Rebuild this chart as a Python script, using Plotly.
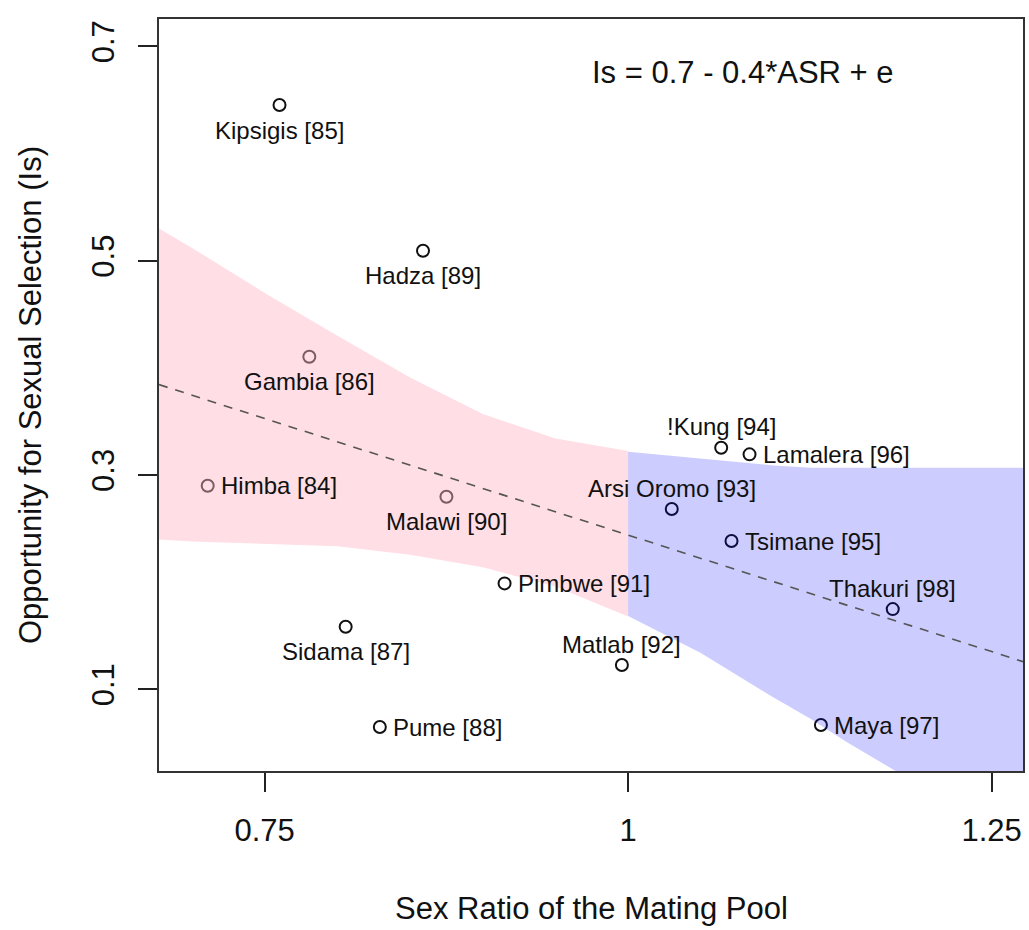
import plotly.graph_objects as go

# ---- data ----
societies = ["Kipsigis [85]", "Hadza [89]", "Gambia [86]", "Himba [84]", "Malawi [90]",
             "Pimbwe [91]", "Sidama [87]", "Pume [88]", "Matlab [92]", "!Kung [94]",
             "Lamalera [96]", "Arsi Oromo [93]", "Tsimane [95]", "Thakuri [98]", "Maya [97]"]
asr = [0.7602, 0.8589, 0.7807, 0.7108, 0.8750, 0.9150, 0.8057, 0.8292, 0.9957, 1.0640,
       1.0835, 1.0300, 1.0711, 1.1820, 1.1326]
i_s = [0.6453, 0.5093, 0.4104, 0.2900, 0.2798, 0.1989, 0.1584, 0.0648, 0.1227, 0.3255,
       0.3193, 0.2683, 0.2384, 0.1749, 0.0667]
label_pos = ["below", "below", "below", "right", "below", "right", "below", "right", "above",
             "above", "right", "above", "right", "above", "right"]

# regression line
fit_intercept = 0.679
fit_slope = -0.435
fit_x = [0.6773, 1.2716]

# shaded bands
pink_x = [0.67, 0.70, 0.75, 0.80, 0.85, 0.90, 0.95, 1.00]
pink_upper = [0.536, 0.512, 0.470, 0.430, 0.391, 0.357, 0.334, 0.3225]
pink_lower = [0.2405, 0.238, 0.236, 0.2335, 0.2255, 0.214, 0.196, 0.168]
blue_x = [1.00, 1.05, 1.10, 1.126, 1.15, 1.20, 1.25, 1.29]
blue_upper = [0.3217, 0.3150, 0.3090, 0.3068, 0.3068, 0.3068, 0.3068, 0.3068]
blue_lower = [0.1684, 0.134, 0.0923, 0.072, 0.051, 0.011, -0.030, -0.062]

x_ticks = [0.75, 1.0, 1.25]
x_ticklabels = ["0.75", "1", "1.25"]
y_ticks = [0.1, 0.3, 0.5, 0.7]
y_ticklabels = ["0.1", "0.3", "0.5", "0.7"]

formula_text = "Is = 0.7 - 0.4*ASR + e"
formula_x, formula_y = 1.0789, 0.676

FONT = "Liberation Sans, Arial, sans-serif"

fig = go.Figure()

fig.add_trace(go.Scatter(
    x=asr, y=i_s, mode="markers",
    marker=dict(symbol="circle-open", size=12, color="#111", line=dict(width=2, color="#111")),
    showlegend=False, hoverinfo="skip"))

fig.add_trace(go.Scatter(
    x=pink_x + pink_x[::-1], y=pink_upper + pink_lower[::-1],
    fill="toself", fillcolor="rgba(255,182,197,0.45)", line=dict(width=0),
    mode="lines", showlegend=False, hoverinfo="skip"))

fig.add_trace(go.Scatter(
    x=blue_x + blue_x[::-1], y=blue_upper + blue_lower[::-1],
    fill="toself", fillcolor="rgba(0,0,255,0.2)", line=dict(width=0),
    mode="lines", showlegend=False, hoverinfo="skip"))

fit_y = [fit_intercept + fit_slope * v for v in fit_x]
fig.add_trace(go.Scatter(
    x=fit_x, y=fit_y, mode="lines",
    line=dict(color="#555", width=1.6, dash="9px,8px"),
    showlegend=False, hoverinfo="skip"))

for name, xv, yv, pos in zip(societies, asr, i_s, label_pos):
    if pos == "below":
        kw = dict(xanchor="center", yanchor="middle", yshift=-25)
    elif pos == "above":
        kw = dict(xanchor="center", yanchor="middle", yshift=21)
    else:
        kw = dict(xanchor="left", yanchor="middle", xshift=11)
    fig.add_annotation(x=xv, y=yv, text=name, showarrow=False,
                       font=dict(family=FONT, size=24, color="#111"), **kw)

fig.add_annotation(x=formula_x, y=formula_y, text=formula_text, showarrow=False,
                   xanchor="center", yanchor="middle",
                   font=dict(family=FONT, size=31, color="#111"))

# axis titles
fig.add_annotation(xref="paper", yref="paper", x=0.5, y=0, yshift=-137,
                   text="Sex Ratio of the Mating Pool", showarrow=False,
                   xanchor="center", yanchor="middle",
                   font=dict(family=FONT, size=31, color="#111"))
fig.add_annotation(xref="paper", yref="paper", x=0, y=0.5, xshift=-129,
                   text="Opportunity for Sexual Selection (Is)", showarrow=False,
                   textangle=-90, xanchor="center", yanchor="middle",
                   font=dict(family=FONT, size=31, color="#111"))

fig.update_layout(
    width=1029, height=930,
    margin=dict(l=159, r=4, t=19, b=159),
    paper_bgcolor="white", plot_bgcolor="white",
    showlegend=False,
    font=dict(family=FONT, color="#111"),
)
fig.update_xaxes(
    range=[0.6773, 1.2716], tickvals=x_ticks, ticktext=x_ticklabels,
    showgrid=False, zeroline=False, showline=True, linecolor="#333", linewidth=2,
    mirror=True, ticks="outside", ticklen=19, tickwidth=2, tickcolor="#222",
    ticklabelstandoff=12, tickfont=dict(family=FONT, size=31, color="#111"))
fig.update_yaxes(
    range=[0.0238, 0.7256], tickvals=y_ticks, ticktext=y_ticklabels,
    showgrid=False, zeroline=False, showline=True, linecolor="#333", linewidth=2,
    mirror=True, ticks="outside", ticklen=19, tickwidth=2, tickcolor="#222",
    tickangle=-90, ticklabelstandoff=12, tickfont=dict(family=FONT, size=31, color="#111"))

# remove the default page margin so the figure fills the window exactly
fig.write_html("out.html",
               config={"displayModeBar": False},
               post_script="document.body.style.margin='0';document.body.style.overflow='hidden';")
